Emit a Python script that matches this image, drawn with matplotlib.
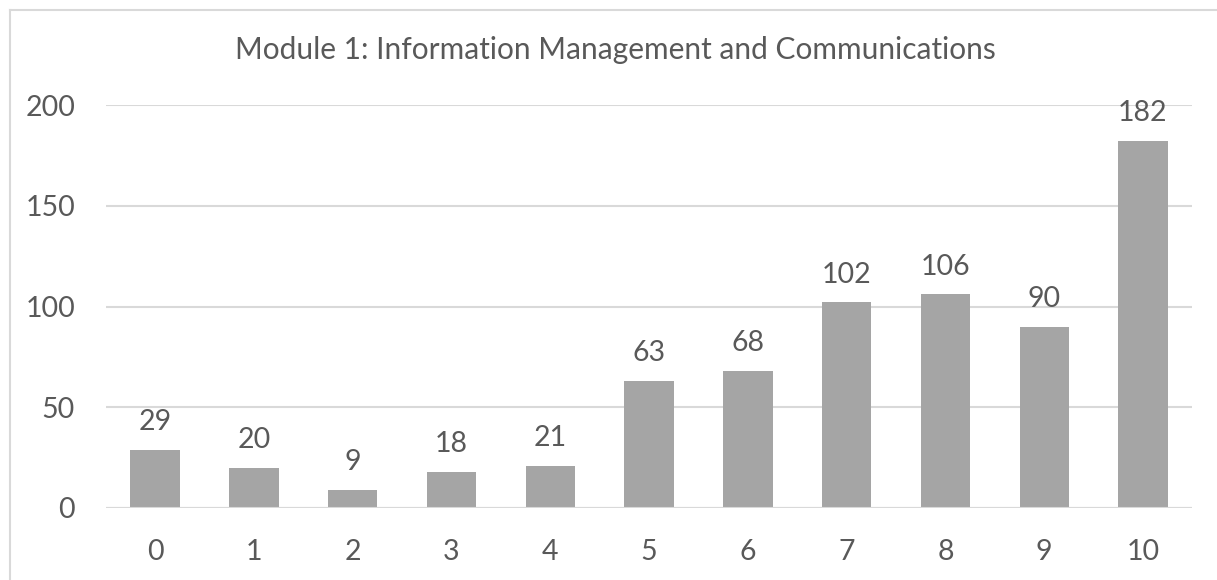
import matplotlib
matplotlib.use("Agg")
import matplotlib.pyplot as plt
from matplotlib.lines import Line2D

categories = ["0", "1", "2", "3", "4", "5", "6", "7", "8", "9", "10"]
values = [29, 20, 9, 18, 21, 63, 68, 102, 106, 90, 182]
yticks = [0, 50, 100, 150, 200]
title = "Module 1: Information Management and Communications"

TEXT = "#595959"
GRID = "#D9D9D9"
BAR = "#A5A5A5"

plt.rcParams['font.family'] = ['Lato', 'DejaVu Sans']

W, H = 1217, 580
fig = plt.figure(figsize=(W / 100, H / 100), dpi=100)
ax = fig.add_axes([105.6 / W, 1 - 508 / H, (1192.4 - 105.6) / W, (508 - 105) / H])

x = list(range(len(categories)))
bars = ax.bar(x, values, width=0.5, color=BAR, zorder=3)
ax.set_xlim(-0.5, len(categories) - 0.5)
ax.set_ylim(0, 200)
ax.set_yticks(yticks)
ax.set_yticklabels([str(v) for v in yticks])
ax.set_xticks(x)
ax.set_xticklabels(categories)

for s in ax.spines.values():
    s.set_visible(False)
ax.grid(axis='y', color=GRID, linewidth=1.5, zorder=0)
ax.axhline(0, color=GRID, linewidth=1.5, zorder=4)
ax.tick_params(axis='both', length=0, labelsize=20.5, colors=TEXT)
ax.tick_params(axis='y', pad=22)
ax.tick_params(axis='x', pad=22)

for xi, v in zip(x, values):
    ax.annotate(str(v), (xi, v), xytext=(0, 20), textcoords='offset points',
                ha='center', va='center', fontsize=20.5, color=TEXT)

fig.text(615 / W, 1 - 50 / H, title, ha='center', va='center', fontsize=21.5, color=TEXT)

# chart border (left and top visible)
fig.add_artist(Line2D([10 / W, 10 / W], [0, 1 - 10 / H], color=GRID, linewidth=1.5, transform=fig.transFigure))
fig.add_artist(Line2D([10 / W, 1], [1 - 10 / H, 1 - 10 / H], color=GRID, linewidth=1.5, transform=fig.transFigure))

fig.savefig("out.png", dpi=100, facecolor="white")
